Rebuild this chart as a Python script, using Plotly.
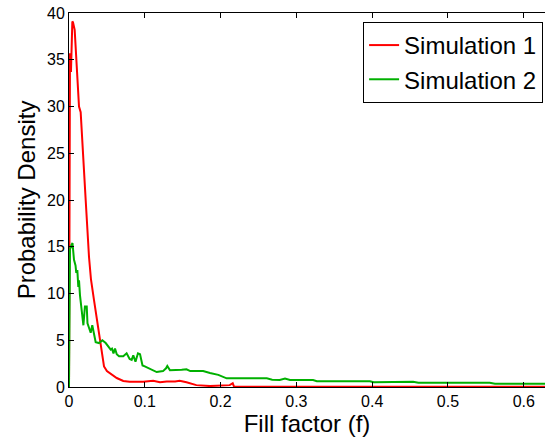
import plotly.graph_objects as go

# Simulation 1 (red)
sim1_x = [0, 0.0013, 0.0026, 0.0044, 0.0053, 0.0075, 0.0106, 0.0132, 0.0154, 0.0185,
          0.022, 0.0264, 0.029, 0.033, 0.0373, 0.0418, 0.0462, 0.050, 0.054, 0.063,
          0.0716, 0.080, 0.098, 0.104, 0.111, 0.120, 0.129, 0.140, 0.146, 0.155,
          0.168, 0.186, 0.208, 0.212, 0.216, 0.2177, 0.40, 0.65]
sim1_y = [0, 35.7, 33.7, 39.1, 39.0, 38.2, 34.0, 30.0, 29.4, 24.5,
          20.0, 13.9, 11.5, 9.3, 7.0, 4.3, 2.2, 1.7, 1.5, 0.96,
          0.65, 0.57, 0.57, 0.62, 0.67, 0.5, 0.6, 0.6, 0.67, 0.5,
          0.2, 0.1, 0.12, 0.2, 0.4, 0.03, 0.03, 0.03]

# Simulation 2 (green)
sim2_x = [0, 0.0013, 0.0033, 0.0046, 0.0066, 0.0086, 0.0096, 0.011, 0.0123, 0.0132,
          0.0145, 0.0165, 0.0175, 0.019, 0.021, 0.0234, 0.0244, 0.0264, 0.0286, 0.0307,
          0.033, 0.0352, 0.0396, 0.044, 0.0484, 0.0528, 0.055, 0.0567, 0.0587, 0.0607,
          0.063, 0.066, 0.0716, 0.076, 0.080, 0.0827, 0.0848, 0.0877, 0.091, 0.0937,
          0.097, 0.100, 0.107, 0.1157, 0.124, 0.128, 0.1297, 0.1332, 0.1487, 0.155,
          0.160, 0.177, 0.186, 0.197, 0.208, 0.261, 0.268, 0.278, 0.285, 0.2916,
          0.322, 0.327, 0.397, 0.402, 0.454, 0.461, 0.555, 0.562, 0.65]
sim2_y = [0, 14.7, 15.2, 15.4, 13.6, 13.0, 12.2, 12.5, 10.7, 11.4,
          9.8, 8.5, 7.5, 6.6, 8.6, 8.6, 6.8, 6.4, 5.8, 6.6,
          5.8, 4.8, 4.7, 5.0, 4.7, 4.3, 4.0, 4.1, 3.6, 4.1,
          3.5, 3.3, 3.3, 3.6, 3.0, 2.9, 3.4, 2.7, 3.6, 3.5,
          2.3, 2.2, 1.9, 1.6, 1.7, 2.0, 2.25, 1.8, 1.85, 1.9,
          1.7, 1.7, 1.5, 1.3, 0.93, 0.93, 0.78, 0.75, 0.9, 0.76,
          0.75, 0.62, 0.62, 0.5, 0.55, 0.45, 0.45, 0.36, 0.36]

x_ticks = [0, 0.1, 0.2, 0.3, 0.4, 0.5, 0.6]
y_ticks = [0, 5, 10, 15, 20, 25, 30, 35, 40]

fig = go.Figure()
fig.add_trace(go.Scatter(x=sim1_x, y=sim1_y, mode="lines", name="Simulation 1",
                         line=dict(color="#FF0000", width=2)))
fig.add_trace(go.Scatter(x=sim2_x, y=sim2_y, mode="lines", name="Simulation 2",
                         line=dict(color="#00B000", width=2)))

font_family = "Liberation Sans, Arial, sans-serif"
fig.update_layout(
    width=545, height=439,
    margin=dict(l=69, r=0, t=13, b=52),
    plot_bgcolor="white", paper_bgcolor="white",
    font=dict(family=font_family, color="#000000", size=16),
    showlegend=True,
    legend=dict(x=0.996, y=0.976, xanchor="right", yanchor="top",
                bgcolor="white", bordercolor="#000000", borderwidth=1,
                font=dict(size=24, family=font_family)),
    xaxis=dict(range=[0, 0.628], tickvals=x_ticks, ticktext=[f"{v:g}" for v in x_ticks],
               showline=True, linecolor="#000000", linewidth=1, mirror="ticks",
               ticks="inside", ticklen=5, tickcolor="#000000", showgrid=False, zeroline=False,
               title=dict(text="Fill factor (f)", font=dict(size=24), standoff=2),
               tickfont=dict(size=16)),
    yaxis=dict(range=[0, 40], tickvals=y_ticks,
               showline=True, linecolor="#000000", linewidth=1, mirror=False,
               ticks="inside", ticklen=5, tickcolor="#000000", showgrid=False, zeroline=False,
               title=dict(text="Probability Density", font=dict(size=24), standoff=4),
               tickfont=dict(size=16)),
)
fig.write_html("out.html", config={"displayModeBar": False},
               post_script="document.body.style.margin='0';document.body.style.overflow='hidden';")
